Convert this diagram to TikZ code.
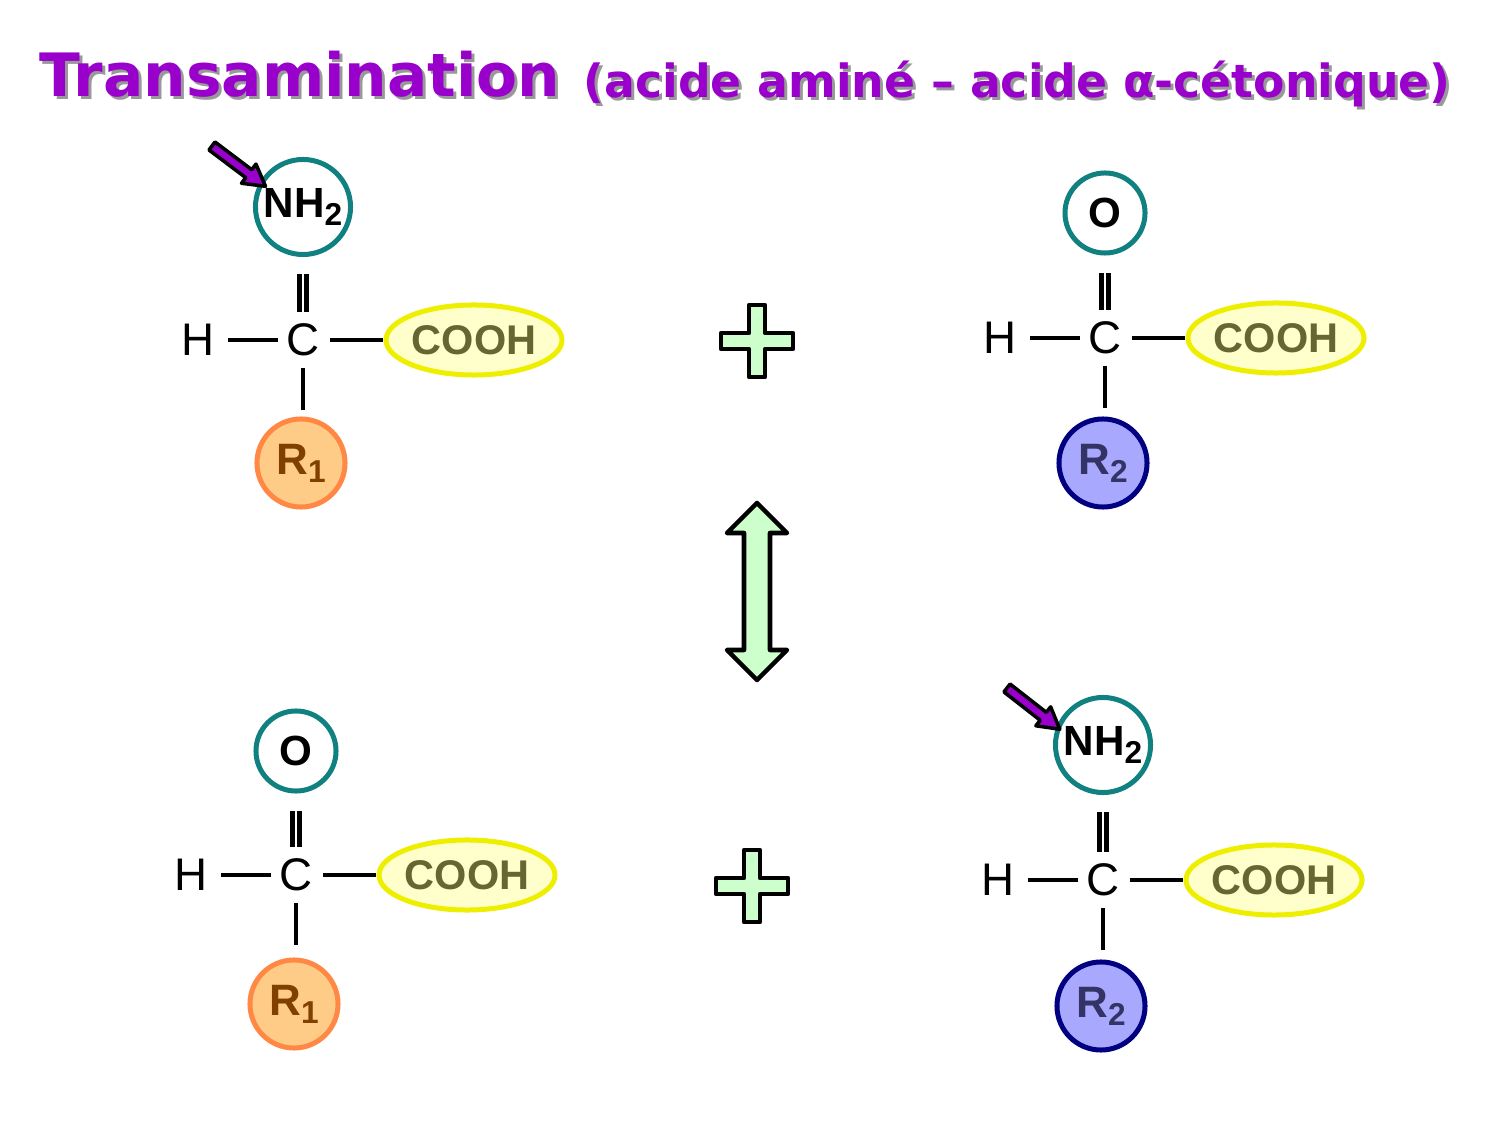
\documentclass[tikz,border=0pt]{standalone}
\usepackage{fontspec}
\usetikzlibrary{shapes.geometric}
\setmainfont{Liberation Sans}
\newfontfamily\ttl{DejaVu Sans}
\definecolor{purp}{HTML}{9900CC}
\definecolor{teal2}{HTML}{118080}
\definecolor{yel}{HTML}{EEEE00}
\definecolor{yelf}{HTML}{FFFFCC}
\definecolor{olive2}{HTML}{666633}
\definecolor{orf}{HTML}{FFCC88}
\definecolor{ord}{HTML}{FF8844}
\definecolor{brn}{HTML}{804000}
\definecolor{bluf}{HTML}{A8A8FF}
\definecolor{blud}{HTML}{000080}
\definecolor{blut}{HTML}{333366}
\definecolor{grn}{HTML}{CCFFCC}
\newcommand\sbs[1]{\raisebox{-0.35ex}{\fontsize{9}{10}\selectfont #1}}
\begin{document}
\begin{tikzpicture}[x=0.01cm,y=0.01cm,
 lbl/.style={font=\fontsize{13}{14}\selectfont,inner sep=0},
 grp/.style={circle,draw=teal2,line width=0.5mm,minimum size=#1,font=\fontsize{12}{14}\selectfont\bfseries,inner sep=0},
 rr/.style 2 args={circle,line width=0.5mm,minimum size=0.88cm,font=\fontsize{12.5}{14}\selectfont\bfseries,inner sep=0,draw=#1,fill=#2},
 cooh/.style={ellipse,draw=yel,fill=yelf,line width=0.5mm,minimum width=1.68cm,minimum height=0.7cm,text=olive2,font=\fontsize{11.8}{14}\selectfont\bfseries,inner sep=0},
 bnd/.style={line width=1.3pt},
 shp/.style={draw=black,fill=grn,line width=1.3pt,line join=round},
 parr/.style={draw=black,fill=purp,line width=1pt,line join=round}]
\useasboundingbox (0,0) rectangle (1500,-1125);
\node[text=black!40,anchor=base] at (303,-100) {\ttl\bfseries\fontsize{17}{20}\selectfont Transamination};
\node[text=purp,anchor=base] (t1) at (300,-97) {\ttl\bfseries\fontsize{17}{20}\selectfont Transamination};
\node[text=black!40,anchor=base] at (1020,-101) {\ttl\bfseries\fontsize{13}{16}\selectfont (acide aminé – acide α-cétonique)};
\node[text=purp,anchor=base] (t2) at (1017,-98) {\ttl\bfseries\fontsize{13}{16}\selectfont (acide aminé – acide α-cétonique)};
\newcommand\mymol[9]{%
 \node[lbl] (#1c) at (#2,-#3) {C};
 \node[lbl] (#1h) at (#2-105,-#3) {H};
 \node[cooh] (#1k) at (#2+171,-#3) {COOH};
 \node[grp=#6] (#1t) at (#2,-#5) {#4};
 \node[#9] (#1r) at (#2-2,-#8) {#7};
 \draw[bnd] ([xshift=-0.75cm]#1c.center) -- ([xshift=-0.25cm]#1c.center);
 \draw[bnd] ([xshift=0.27cm]#1c.center) -- (#1k.west);
 \draw[bnd] ([yshift=-0.28cm]#1c.center) -- ([yshift=-0.7cm]#1c.center);
 \draw[bnd] ([xshift=-0.035cm,yshift=0.28cm]#1c.center) -- ([xshift=-0.035cm,yshift=-0.17cm]#1t.south);
 \draw[bnd] ([xshift=0.035cm,yshift=0.28cm]#1c.center) -- ([xshift=0.035cm,yshift=-0.17cm]#1t.south);
}
\mymol{a}{303}{340}{NH\sbs{2}}{207}{0.95cm}{R\sbs{1}}{463}{{rr={ord}{orf}},text=brn}
\mymol{b}{1105}{338}{O}{213}{0.8cm}{R\sbs{2}}{463}{{rr={blud}{bluf}},text=blut}
\mymol{c}{296}{875}{O}{751}{0.8cm}{R\sbs{1}}{1004}{{rr={ord}{orf}},text=brn}
\mymol{d}{1103}{880}{NH\sbs{2}}{745}{0.95cm}{R\sbs{2}}{1006}{{rr={blud}{bluf}},text=blut}
\begin{scope}[shift={(212,-146)},rotate=-37]
\draw[parr] (0,5)--(46,5)--(46,12)--(67,0)--(46,-12)--(46,-5)--(0,-5)--cycle;
\end{scope}
\begin{scope}[shift={(1007,-688)},rotate=-38]
\draw[parr] (0,5)--(46,5)--(46,12)--(67,0)--(46,-12)--(46,-5)--(0,-5)--cycle;
\end{scope}
\begin{scope}[shift={(757,-341)}]
\draw[shp] (-8,-36)--(8,-36)--(8,-8)--(36,-8)--(36,8)--(8,8)--(8,36)--(-8,36)--(-8,8)--(-36,8)--(-36,-8)--(-8,-8)--cycle;
\end{scope}
\begin{scope}[shift={(752,-886)}]
\draw[shp] (-8,-36)--(8,-36)--(8,-8)--(36,-8)--(36,8)--(8,8)--(8,36)--(-8,36)--(-8,8)--(-36,8)--(-36,-8)--(-8,-8)--cycle;
\end{scope}
\draw[shp] (757,-503)--(787,-533)--(770,-533)--(770,-650)--(787,-650)--(757,-680)--(727,-650)--(744,-650)--(744,-533)--(727,-533)--cycle;
\end{tikzpicture}
\end{document}
